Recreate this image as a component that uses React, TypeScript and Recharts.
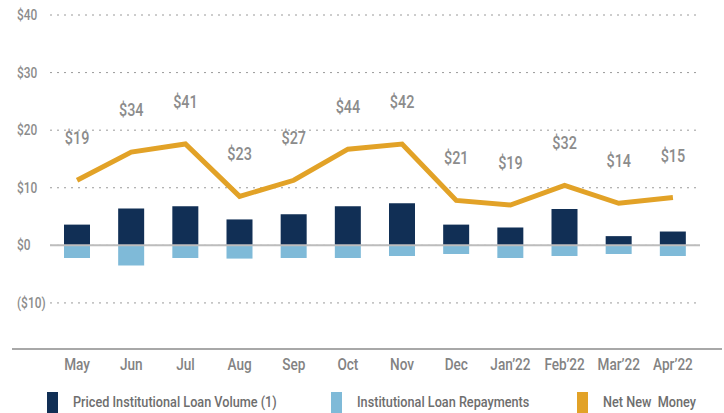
import {
  ComposedChart,
  Bar,
  Line,
  XAxis,
  YAxis,
  CartesianGrid,
  ReferenceLine,
  LabelList,
} from "recharts";

const months = ["May", "Jun", "Jul", "Aug", "Sep", "Oct", "Nov", "Dec", "Jan\u201922", "Feb\u201922", "Mar\u201922", "Apr\u201922"];
const loanVolume = [3.6, 6.4, 6.8, 4.5, 5.4, 6.8, 7.3, 3.6, 3.1, 6.3, 1.6, 2.4];
const repayments = [-2.2, -3.5, -2.2, -2.3, -2.2, -2.2, -1.85, -1.5, -2.2, -1.85, -1.5, -1.85];
const netNewMoney = [11.3, 16.2, 17.6, 8.5, 11.3, 16.7, 17.6, 7.8, 7.0, 10.4, 7.3, 8.3];
const netLabels = ["$19", "$34", "$41", "$23", "$27", "$44", "$42", "$21", "$19", "$32", "$14", "$15"];
const yTicks = [-10, 0, 10, 20, 30, 40];

const data = months.map((m, i) => ({
  month: m,
  volume: loanVolume[i],
  repay: repayments[i],
  net: netNewMoney[i],
}));

const NAVY = "#112f55";
const LIGHT = "#7fbad8";
const GOLD = "#e2a227";
const FONT = "Roboto, sans-serif";

const fmtY = (v: number) => (v < 0 ? `($${Math.abs(v)})` : `$${v}`);

// condensed look: squeeze text horizontally
function NarrowText({ x, y, anchor = "middle", sx = 0.8, size, weight = 400, fill, children }: any) {
  return (
    <text
      transform={`translate(${x},${y}) scale(${sx},1)`}
      textAnchor={anchor}
      fill={fill}
      fontSize={size}
      fontWeight={weight}
      fontFamily={FONT}
    >
      {children}
    </text>
  );
}

function YTick({ y, payload }: any) {
  return (
    <NarrowText x={17} y={y + 5} anchor="start" sx={0.85} size={14} weight={500} fill="#8c8c8c">
      {fmtY(payload.value)}
    </NarrowText>
  );
}

function XTick({ x, y, payload }: any) {
  return (
    <NarrowText x={x} y={y + 13} sx={0.85} size={16} weight={500} fill="#838383">
      {payload.value}
    </NarrowText>
  );
}

function NetLabel({ x, y, index }: any) {
  return (
    <NarrowText x={x} y={y - 36} sx={0.8} size={18} weight={500} fill="#8c8c8c">
      {netLabels[index]}
    </NarrowText>
  );
}

const legendItems = [
  { name: "Priced Institutional Loan Volume (1)", color: NAVY, left: 47 },
  { name: "Institutional Loan Repayments", color: LIGHT, left: 331 },
  { name: "Net New  Money", color: GOLD, left: 577 },
];

export default function App() {
  return (
    <div style={{ position: "absolute", left: 0, top: 0, width: 724, height: 413, background: "#fff", overflow: "hidden" }}>
      <ComposedChart
        width={724}
        height={385}
        data={data}
        stackOffset="sign"
        margin={{ top: 15, right: 24, bottom: 6, left: 0 }}
      >
        <CartesianGrid vertical={false} stroke="#9a9a9a" strokeDasharray="2 5" />
        <XAxis dataKey="month" axisLine={false} tickLine={false} height={30} tick={<XTick />} interval={0} />
        <YAxis
          domain={[-18, 40]}
          ticks={yTicks}
          width={50}
          axisLine={false}
          tickLine={false}
          tick={<YTick />}
          allowDataOverflow
        />
        <Bar dataKey="volume" stackId="a" fill={NAVY} barSize={26} isAnimationActive={false} />
        <Bar dataKey="repay" stackId="a" fill={LIGHT} barSize={26} isAnimationActive={false} />
        <ReferenceLine y={0} stroke="#bdbdbd" strokeWidth={2} />
        <Line
          type="linear"
          dataKey="net"
          stroke={GOLD}
          strokeWidth={5}
          dot={false}
          isAnimationActive={false}
        >
          <LabelList dataKey="net" content={<NetLabel />} />
        </Line>
      </ComposedChart>
      <div style={{ position: "absolute", left: 12, top: 348, width: 710, height: 2, background: "#a8a8a8" }} />
      {legendItems.map((it) => (
        <div key={it.name} style={{ position: "absolute", left: it.left, top: 392, display: "flex", alignItems: "flex-start" }}>
          <span style={{ width: 11, height: 21, background: it.color, display: "inline-block", flexShrink: 0 }} />
          <span
            style={{
              marginLeft: 15,
              marginTop: 1,
              fontFamily: FONT,
              fontWeight: 500,
              fontSize: 15,
              color: "#6e6e6e",
              whiteSpace: "pre",
              lineHeight: "18px",
              display: "inline-block",
              transform: "scaleX(0.845)",
              transformOrigin: "left center",
            }}
          >
            {it.name}
          </span>
        </div>
      ))}
    </div>
  );
}
